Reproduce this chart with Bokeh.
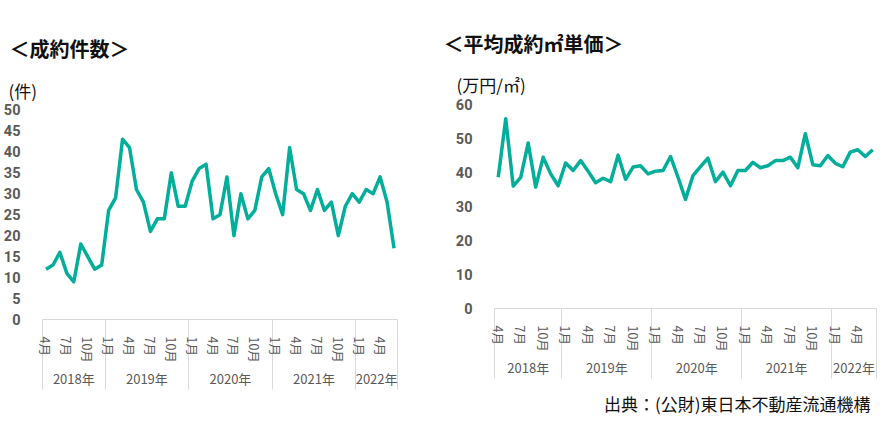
from bokeh.plotting import figure
from bokeh.layouts import row
from bokeh.models import Range1d, LinearAxis, FixedTicker, Title
from bokeh.embed import file_html
from bokeh.resources import INLINE

# ---- data ----
months = [f"{y}-{m:02d}" for y, m in
          [(2018, m) for m in range(4, 13)] + [(2019, m) for m in range(1, 13)] +
          [(2020, m) for m in range(1, 13)] + [(2021, m) for m in range(1, 13)] +
          [(2022, m) for m in range(1, 7)]]

count = [12, 13, 16, 11, 9, 18, 15, 12, 13,
         26, 29, 43, 41, 31, 28, 21, 24, 24, 35, 27, 27,
         33, 36, 37, 24, 25, 34, 20, 30, 24, 26, 34, 36,
         30, 25, 41, 31, 30, 26, 31, 26, 28, 20, 27, 30,
         28, 31, 30, 34, 28, 17]

price = [38.6, 55.8, 36.0, 38.6, 48.7, 35.7, 44.5, 39.6, 36.1,
         42.8, 40.6, 43.5, 40.4, 37.0, 38.3, 37.3, 45.1, 38.0, 41.6, 42.0, 39.6,
         40.4, 40.6, 44.7, 38.6, 32.1, 39.1, 41.7, 44.2, 37.3, 40.1, 36.1, 40.6,
         40.6, 43.0, 41.4, 42.0, 43.5, 43.5, 44.5, 41.4, 51.4, 42.3, 42.0, 45.0,
         42.7, 41.7, 46.0, 46.7, 44.7, 46.7]

years = ["2018", "2019", "2020", "2021", "2022"]
year_labels = ["2018年", "2019年", "2020年", "2021年", "2022年"]
month_label_months = [1, 4, 7, 10]

title_left = "＜成約件数＞"
unit_left = "(件)"
title_right = "＜平均成約㎡単価＞"
unit_right = "(万円/㎡)"
source_note = "出典：(公財)東日本不動産流通機構"

# ---- derived tick positions ----
xs = list(range(len(months)))
tick_idx = [i for i, s in enumerate(months) if int(s[5:]) in month_label_months]
tick_over = {i: f"{int(months[i][5:])}月" for i in tick_idx}
year_first = [next(i for i, s in enumerate(months) if s.startswith(y)) for y in years]
year_last = [max(i for i, s in enumerate(months) if s.startswith(y)) for y in years]
bounds = [i - 0.5 for i in year_first] + [len(months) - 0.5]
centers = [(a + b) / 2 for a, b in zip(year_first, year_last)]
year_over = {c: l for c, l in zip(centers, year_labels)}

LINE = "#00ae9a"
GRAY = "#595959"
SEP = "#d9d9d9"
CJK = "Noto Sans CJK JP"


def make(values, ymax, yend, ystep, title, unit, fw, fh, mb_left, mb_right, mb_top,
         mb_bottom, title_offset, unit_offset, title_standoff, unit_standoff,
         note=None):
    p = figure(frame_width=fw, frame_height=fh,
               x_range=Range1d(-0.5, len(months) - 0.5), y_range=Range1d(0, yend),
               x_axis_location=None, y_axis_location=None,
               output_backend="svg", toolbar_location=None,
               min_border_left=mb_left, min_border_right=mb_right,
               min_border_top=mb_top, min_border_bottom=mb_bottom)
    p.outline_line_color = None
    p.grid.visible = False
    p.background_fill_color = "white"
    p.border_fill_color = "white"

    p.line(xs, values, line_color=LINE, line_width=3.5, line_join="round")

    yaxis = LinearAxis(ticker=FixedTicker(ticks=list(range(0, ymax + 1, ystep))),
                       axis_line_color=None, major_tick_line_color=None,
                       minor_tick_line_color=None,
                       major_label_text_font="Roboto",
                       major_label_text_font_size="14.5px",
                       major_label_text_font_style="bold",
                       major_label_text_color=GRAY,
                       major_label_standoff=16)
    p.add_layout(yaxis, "left")

    maxis = LinearAxis(ticker=FixedTicker(ticks=tick_idx, minor_ticks=bounds),
                       major_label_overrides=tick_over,
                       major_label_orientation="vertical",
                       axis_line_color=SEP, axis_line_width=1,
                       major_tick_line_color=None,
                       minor_tick_line_color=SEP, minor_tick_line_width=1,
                       minor_tick_in=-70, minor_tick_out=0,
                       major_label_text_font=CJK,
                       major_label_text_font_size="12.5px",
                       major_label_text_color=GRAY,
                       major_label_standoff=11)
    p.add_layout(maxis, "below")

    yr = LinearAxis(ticker=FixedTicker(ticks=centers), major_label_overrides=year_over,
                    axis_line_color=None, major_tick_line_color=None,
                    minor_tick_line_color=None,
                    major_label_text_font=CJK,
                    major_label_text_font_size="13px",
                    major_label_text_color=GRAY,
                    major_label_standoff=-3)
    p.add_layout(yr, "below")

    p.add_layout(Title(text=unit, align="left", offset=unit_offset,
                       text_font=CJK, text_font_size="17px",
                       text_font_style="normal", text_color="#111111",
                       standoff=unit_standoff), "above")
    p.add_layout(Title(text=title, align="left", offset=title_offset,
                       text_font=CJK, text_font_size="20px",
                       text_font_style="bold", text_color="#111111",
                       standoff=title_standoff), "above")
    if note:
        p.add_layout(Title(text=note, align="right", offset=6,
                           text_font=CJK, text_font_size="17px",
                           text_font_style="normal", text_color="#111111",
                           standoff=19), "below")
    return p


left = make(count, 50, 51.27, 5, title_left, unit_left, 355, 215, 34, 41, 104, 10,
            -33, -34, 21, 4)
right = make(price, 60, 60, 10, title_right, unit_right, 382, 204, 56, 9, 104, 114,
             -51, -38, 8, 16, note=source_note)

layout = row(left, right)
open("out.html", "w").write(file_html(layout, INLINE))
